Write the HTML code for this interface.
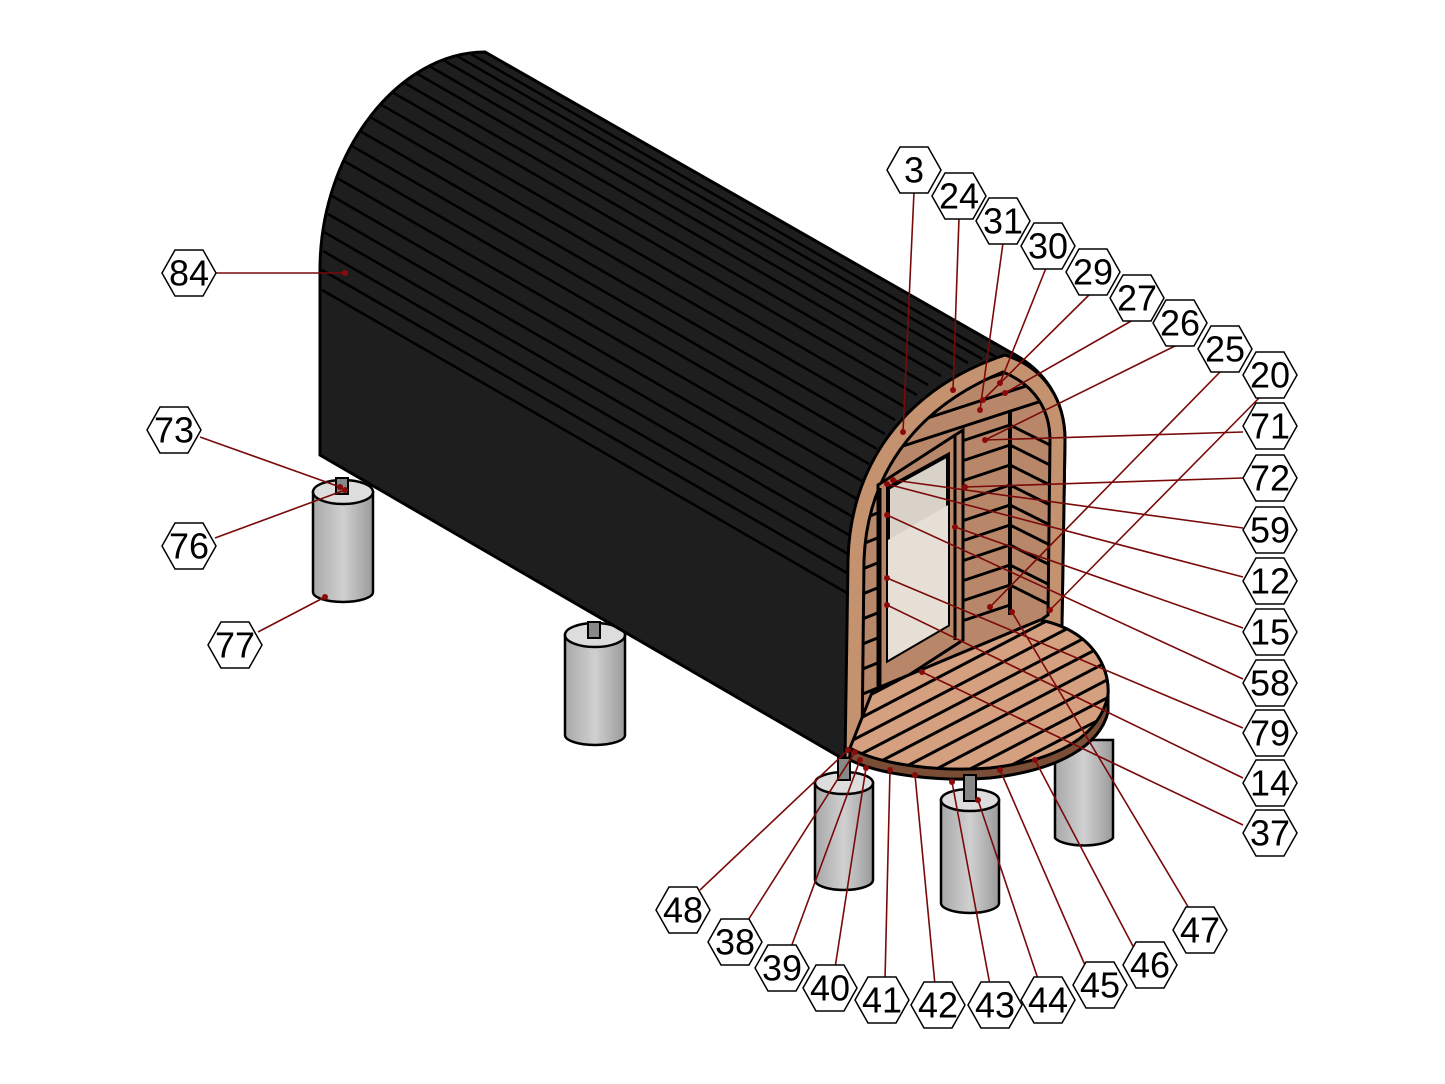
<!DOCTYPE html>
<html><head><meta charset="utf-8"><style>
html,body{margin:0;padding:0;background:#fff;}
svg{display:block}
text{font-family:"Liberation Sans",sans-serif;font-size:36px;fill:#000;text-anchor:middle;dominant-baseline:central}
</style></head><body>
<svg width="1445" height="1084" viewBox="0 0 1445 1084" xmlns="http://www.w3.org/2000/svg">
<defs>
<clipPath id="body"><path d="M320,455 L320,270 C320,150 400,52 485,52 L1010,352 L1062,620 L845,760 Z"/></clipPath>
<linearGradient id="cyl" x1="0" x2="1"><stop offset="0" stop-color="#a8a8a8"/><stop offset="0.5" stop-color="#d0d0d0"/><stop offset="1" stop-color="#9a9a9a"/></linearGradient>
<g id="hex"><polygon points="-27,0 -14,-23 14,-23 27,0 14,23 -14,23" fill="#fff" stroke="#000" stroke-width="1.5"/></g>
</defs>

<g stroke="#000" stroke-width="2.5" fill="url(#cyl)">
<path d="M313,492 L313,592 A30,10 0 0 0 373,592 L373,492 Z"/><ellipse cx="343" cy="492" rx="30" ry="12" fill="#ddd"/>
<path d="M565,635 L565,735 A30,10 0 0 0 625,735 L625,635 Z"/><ellipse cx="595" cy="635" rx="30" ry="12" fill="#ddd"/>
<path d="M1055,740 L1055,838 A30,10 0 0 0 1113,838 L1113,740 Z"/>
</g>
<rect x="336" y="478" width="12" height="16" fill="#888" stroke="#000" stroke-width="2"/>
<rect x="588" y="622" width="12" height="16" fill="#888" stroke="#000" stroke-width="2"/>

<path d="M320,455 L320,270 C320,150 400,52 485,52 L1010,352 C1045,370 1065,400 1065,440 L1062,620 L845,760 Z" fill="#1e1e1e" stroke="#000" stroke-width="3"/>
<g clip-path="url(#body)" stroke="#000" stroke-width="2.5">
<line x1="322" y1="290" x2="847" y2="593"/>
<line x1="322" y1="270" x2="847" y2="573"/>
<line x1="323" y1="251" x2="848" y2="554"/>
<line x1="324" y1="232" x2="849" y2="535"/>
<line x1="328" y1="214" x2="853" y2="517"/>
<line x1="332" y1="196" x2="857" y2="499"/>
<line x1="337" y1="178" x2="862" y2="481"/>
<line x1="344" y1="161" x2="869" y2="464"/>
<line x1="352" y1="146" x2="877" y2="449"/>
<line x1="360" y1="131" x2="885" y2="434"/>
<line x1="370" y1="117" x2="895" y2="420"/>
<line x1="380" y1="104" x2="905" y2="407"/>
<line x1="392" y1="92" x2="917" y2="395"/>
<line x1="403" y1="82" x2="928" y2="385"/>
<line x1="416" y1="73" x2="941" y2="376"/>
<line x1="429" y1="66" x2="954" y2="369"/>
<line x1="443" y1="60" x2="968" y2="363"/>
<line x1="457" y1="56" x2="982" y2="359"/>
<line x1="471" y1="54" x2="996" y2="357"/>
</g>

<path d="M845,760 L848,560 C850,470 900,390 1005,355 C1045,368 1065,400 1065,440 L1062,625 L845,760 Z" fill="#c4926f" stroke="#000" stroke-width="3"/>
<path d="M862,745 L864,560 C867,480 910,410 1003,372 C1035,385 1050,410 1050,440 L1048,615 Z" fill="#b8876a" stroke="#000" stroke-width="3"/>
<clipPath id="inner"><path d="M862,745 L864,560 C867,480 910,410 1003,372 C1035,385 1050,410 1050,440 L1048,615 Z"/></clipPath>
<g clip-path="url(#inner)" stroke="#000" stroke-width="3">
<line x1="860" y1="400" x2="1060" y2="335"/><line x1="860" y1="420" x2="1060" y2="355"/>
<line x1="860" y1="440" x2="1060" y2="375"/><line x1="860" y1="460" x2="1060" y2="395"/>
<line x1="950" y1="445" x2="1010" y2="425"/><line x1="950" y1="465" x2="1010" y2="445"/>
<line x1="950" y1="485" x2="1010" y2="465"/><line x1="950" y1="505" x2="1010" y2="485"/>
<line x1="950" y1="525" x2="1010" y2="505"/><line x1="950" y1="545" x2="1010" y2="525"/>
<line x1="950" y1="565" x2="1010" y2="545"/><line x1="950" y1="585" x2="1010" y2="565"/>
<line x1="950" y1="605" x2="1010" y2="585"/><line x1="950" y1="625" x2="1010" y2="605"/>
<line x1="1010" y1="425" x2="1050" y2="445"/><line x1="1010" y1="445" x2="1050" y2="465"/>
<line x1="1010" y1="465" x2="1050" y2="485"/><line x1="1010" y1="485" x2="1050" y2="505"/>
<line x1="1010" y1="505" x2="1050" y2="525"/><line x1="1010" y1="525" x2="1050" y2="545"/>
<line x1="1010" y1="545" x2="1050" y2="565"/><line x1="1010" y1="565" x2="1050" y2="585"/>
<line x1="1010" y1="585" x2="1050" y2="605"/>
<line x1="1010" y1="410" x2="1010" y2="615" stroke-width="4"/>
<line x1="860" y1="520" x2="880" y2="512"/><line x1="860" y1="545" x2="880" y2="537"/>
<line x1="860" y1="570" x2="880" y2="562"/><line x1="860" y1="595" x2="880" y2="587"/>
<line x1="860" y1="620" x2="880" y2="612"/><line x1="860" y1="645" x2="880" y2="637"/>
<line x1="860" y1="670" x2="880" y2="662"/><line x1="860" y1="695" x2="880" y2="687"/>
</g>
<path d="M878,485 L963,430 L963,640 L878,695 Z" fill="#b8876a" stroke="#000" stroke-width="3"/>
<path d="M888,488 L948,455 L948,625 L888,660 Z" fill="#d8d2c8" stroke="#000" stroke-width="4"/>
<path d="M888,540 L948,505 L948,625 L888,660 Z" fill="#e6dfd6"/>
<line x1="955" y1="435" x2="955" y2="640" stroke="#000" stroke-width="3"/>
<line x1="880" y1="488" x2="880" y2="690" stroke="#000" stroke-width="3"/>

<path d="M850,748 L873,740 L1040,625 C1090,630 1110,665 1108,695 L1108,712 C1100,745 1060,770 990,778 C940,782 880,775 850,760 Z" fill="#7a4e36" stroke="#000" stroke-width="3"/>
<path d="M850,748 L873,690 L1040,620 C1090,630 1110,665 1108,695 C1100,735 1060,760 990,768 C940,772 880,765 850,748 Z" fill="#d4a080" stroke="#000" stroke-width="3"/>
<clipPath id="deck"><path d="M850,748 L873,690 L1040,620 C1090,630 1110,665 1108,695 C1100,735 1060,760 990,768 C940,772 880,765 850,748 Z"/></clipPath>
<g clip-path="url(#deck)" stroke="#000" stroke-width="3">
<line x1="830" y1="680" x2="1000" y2="590"/><line x1="830" y1="698" x2="1020" y2="598"/>
<line x1="830" y1="716" x2="1040" y2="606"/><line x1="830" y1="734" x2="1060" y2="614"/>
<line x1="830" y1="752" x2="1080" y2="622"/><line x1="840" y1="765" x2="1100" y2="630"/>
<line x1="860" y1="772" x2="1120" y2="637"/><line x1="880" y1="780" x2="1130" y2="650"/>
<line x1="900" y1="788" x2="1130" y2="668"/><line x1="920" y1="795" x2="1130" y2="686"/>
<line x1="940" y1="802" x2="1130" y2="704"/><line x1="960" y1="810" x2="1130" y2="722"/>
<line x1="980" y1="818" x2="1130" y2="740"/>
</g>

<g stroke="#000" stroke-width="2.5" fill="url(#cyl)">
<path d="M815,783 L815,880 A29,10 0 0 0 873,880 L873,783 Z"/><ellipse cx="844" cy="783" rx="29" ry="11" fill="#ddd"/>
<path d="M941,800 L941,903 A29,10 0 0 0 999,903 L999,800 Z"/><ellipse cx="970" cy="800" rx="29" ry="11" fill="#ddd"/>
</g>
<rect x="838" y="758" width="12" height="22" fill="#888" stroke="#000" stroke-width="2"/>
<rect x="964" y="775" width="12" height="26" fill="#888" stroke="#000" stroke-width="2"/>

<g stroke="#7a0a0a" stroke-width="1.6" fill="none">
<path d="M914,192 L903,432"/><path d="M959,218 L953,390"/><path d="M1003,243 L980,410"/>
<path d="M1046,268 L1000,383"/><path d="M1090,294 L983,400"/><path d="M1133,320 L1005,393"/>
<path d="M1177,345 L985,440"/><path d="M1221,371 L990,607"/><path d="M1262,395 L1050,610"/>
<path d="M1243,432 L985,440"/><path d="M1243,478 L965,487"/><path d="M1243,528 L893,480"/>
<path d="M1243,577 L887,484"/><path d="M1243,628 L955,527"/><path d="M1243,679 L887,515"/>
<path d="M1243,728 L887,578"/><path d="M1243,778 L887,605"/><path d="M1243,825 L922,672"/>
<path d="M1190,910 L1012,612"/><path d="M1135,950 L1035,760"/><path d="M1088,972 L1000,770"/>
<path d="M1040,985 L978,800"/><path d="M990,985 L952,782"/><path d="M935,985 L915,775"/>
<path d="M885,980 L890,770"/><path d="M835,968 L866,768"/><path d="M790,950 L860,760"/>
<path d="M745,925 L855,752"/><path d="M700,890 L848,750"/>
<path d="M216,273 L345,273"/><path d="M200,437 L340,487"/><path d="M215,538 L345,490"/><path d="M258,632 L325,597"/>
</g>
<g fill="#8a0a0a">
<circle cx="903" cy="432" r="3"/><circle cx="953" cy="390" r="3"/><circle cx="980" cy="410" r="3"/><circle cx="1000" cy="383" r="3"/><circle cx="983" cy="400" r="3"/><circle cx="1005" cy="393" r="3"/><circle cx="985" cy="440" r="3"/><circle cx="990" cy="607" r="3"/><circle cx="1050" cy="610" r="3"/><circle cx="965" cy="487" r="3"/><circle cx="893" cy="480" r="3"/><circle cx="887" cy="484" r="3"/><circle cx="955" cy="527" r="3"/><circle cx="887" cy="515" r="3"/><circle cx="887" cy="578" r="3"/><circle cx="887" cy="605" r="3"/><circle cx="922" cy="672" r="3"/><circle cx="1012" cy="612" r="3"/><circle cx="345" cy="273" r="3"/><circle cx="340" cy="487" r="3"/><circle cx="345" cy="490" r="3"/><circle cx="325" cy="597" r="3"/><circle cx="848" cy="750" r="3"/><circle cx="855" cy="752" r="3"/><circle cx="860" cy="760" r="3"/><circle cx="866" cy="768" r="3"/><circle cx="890" cy="770" r="3"/><circle cx="915" cy="775" r="3"/><circle cx="952" cy="782" r="3"/><circle cx="978" cy="800" r="3"/><circle cx="1000" cy="770" r="3"/><circle cx="1035" cy="760" r="3"/>
</g>

<g>
<use href="#hex" x="914" y="170"/><text x="914" y="170">3</text>
<use href="#hex" x="959" y="196"/><text x="959" y="196">24</text>
<use href="#hex" x="1003" y="221"/><text x="1003" y="221">31</text>
<use href="#hex" x="1048" y="246"/><text x="1048" y="246">30</text>
<use href="#hex" x="1093" y="272"/><text x="1093" y="272">29</text>
<use href="#hex" x="1137" y="298"/><text x="1137" y="298">27</text>
<use href="#hex" x="1180" y="323"/><text x="1180" y="323">26</text>
<use href="#hex" x="1225" y="349"/><text x="1225" y="349">25</text>
<use href="#hex" x="1270" y="375"/><text x="1270" y="375">20</text>
<use href="#hex" x="1270" y="426"/><text x="1270" y="426">71</text>
<use href="#hex" x="1270" y="478"/><text x="1270" y="478">72</text>
<use href="#hex" x="1270" y="530"/><text x="1270" y="530">59</text>
<use href="#hex" x="1270" y="581"/><text x="1270" y="581">12</text>
<use href="#hex" x="1270" y="632"/><text x="1270" y="632">15</text>
<use href="#hex" x="1270" y="683"/><text x="1270" y="683">58</text>
<use href="#hex" x="1270" y="733"/><text x="1270" y="733">79</text>
<use href="#hex" x="1270" y="783"/><text x="1270" y="783">14</text>
<use href="#hex" x="1270" y="833"/><text x="1270" y="833">37</text>
<use href="#hex" x="1200" y="930"/><text x="1200" y="930">47</text>
<use href="#hex" x="1150" y="965"/><text x="1150" y="965">46</text>
<use href="#hex" x="1100" y="985"/><text x="1100" y="985">45</text>
<use href="#hex" x="1048" y="1000"/><text x="1048" y="1000">44</text>
<use href="#hex" x="995" y="1005"/><text x="995" y="1005">43</text>
<use href="#hex" x="938" y="1005"/><text x="938" y="1005">42</text>
<use href="#hex" x="882" y="1000"/><text x="882" y="1000">41</text>
<use href="#hex" x="830" y="988"/><text x="830" y="988">40</text>
<use href="#hex" x="782" y="968"/><text x="782" y="968">39</text>
<use href="#hex" x="735" y="942"/><text x="735" y="942">38</text>
<use href="#hex" x="683" y="910"/><text x="683" y="910">48</text>
<use href="#hex" x="189" y="273"/><text x="189" y="273">84</text>
<use href="#hex" x="174" y="430"/><text x="174" y="430">73</text>
<use href="#hex" x="189" y="546"/><text x="189" y="546">76</text>
<use href="#hex" x="235" y="645"/><text x="235" y="645">77</text>
</g>
</svg>
</body></html>
